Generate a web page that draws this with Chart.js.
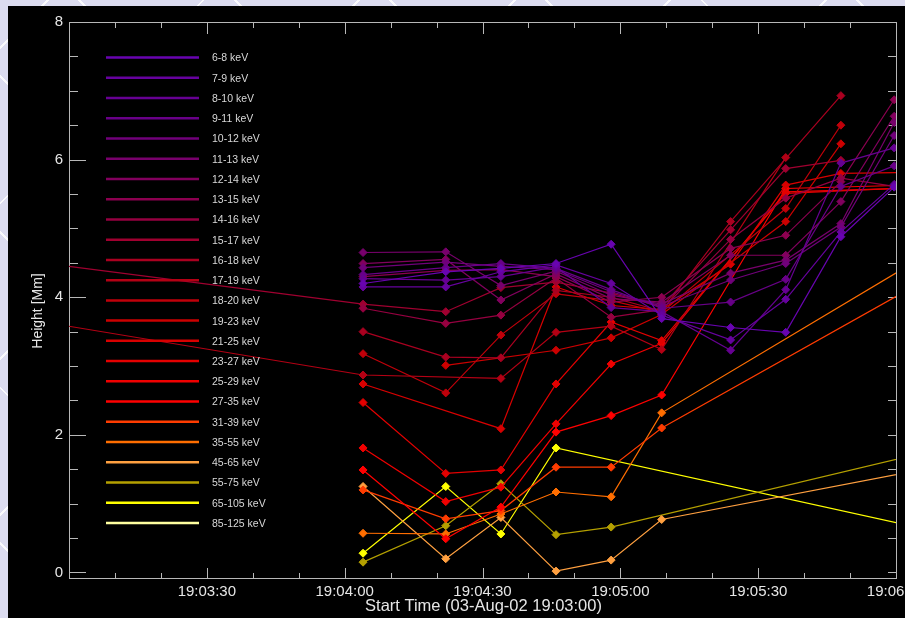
<!DOCTYPE html>
<html>
<head>
<meta charset="utf-8">
<script src="https://cdn.jsdelivr.net/npm/chart.js@4.4.1/dist/chart.umd.min.js"></script>
<style>
  html, body { margin: 0; padding: 0; width: 905px; height: 618px; overflow: hidden; }
  body {
    background-color: #dcdcf0;
    background-image:
      repeating-linear-gradient(45deg, rgba(255,255,255,0) 0 52px, rgba(255,255,255,0.85) 52px 54px, rgba(255,255,255,0) 54px 110px),
      repeating-linear-gradient(-45deg, rgba(255,255,255,0) 0 52px, rgba(255,255,255,0.85) 52px 54px, rgba(255,255,255,0) 54px 110px);
  }
  #wrap { position: absolute; left: 8px; top: 6px; width: 897px; height: 612px; background: #000; }
  canvas { display: block; }
</style>
</head>
<body>
<div id="wrap"><canvas id="c" width="897" height="612"></canvas></div>
<script>
// Sample times, seconds after 19:03:00 (first and last fall outside the plotted window)
const timesSec = [-20, 64, 82, 94, 106, 118, 129, 144, 156, 168, 179.6, 200];

const bandLabels = [
  '6-8 keV', '7-9 keV', '8-10 keV', '9-11 keV', '10-12 keV', '11-13 keV',
  '12-14 keV', '13-15 keV', '14-16 keV', '15-17 keV', '16-18 keV', '17-19 keV',
  '18-20 keV', '19-23 keV', '21-25 keV', '23-27 keV', '25-29 keV', '27-35 keV',
  '31-39 keV', '35-55 keV', '45-65 keV', '55-75 keV', '65-105 keV', '85-125 keV'
];

const bandColors = [
  '#6804b0', '#66029e', '#660092', '#680088', '#70007a', '#78006c',
  '#82005e', '#8c0050', '#960040', '#a00030', '#aa0020', '#b40014',
  '#c0000a', '#cc0000', '#d80000', '#e40000', '#f00000', '#ff0000',
  '#ff3c00', '#ff6e00', '#ffa040', '#b4a000', '#ffff00', '#ffffa0'
];

// Source height (Mm) per band at each sample time; null = no measurement
const h_6_8    = [null, 4.20, 4.37, 4.42, 4.49, 4.77, 3.69, 3.56, 3.49, 4.88, 5.60, null];
const h_7_9    = [null, 4.15, 4.15, 4.37, 4.47, 4.20, 3.74, 3.38, 3.97, 4.95, 5.64, null];
const h_8_10   = [null, 4.27, 4.25, 4.30, 4.44, 3.85, 3.79, 3.23, 4.11, 5.95, 6.17, null];
const h_9_11   = [null, 4.33, 4.43, 4.49, 4.42, 4.11, 3.84, 3.93, 4.26, 5.61, 5.91, null];
const h_10_12  = [null, 4.43, 4.51, 4.45, 4.40, 4.08, 3.87, 4.25, 4.49, 5.02, 6.35, null];
const h_11_13  = [null, 4.65, 4.66, 4.17, 4.38, 4.03, 3.90, 4.35, 4.54, 5.07, 6.54, null];
const h_12_14  = [null, 4.49, 4.55, 3.96, 4.34, 3.98, 3.93, 4.61, 4.61, 5.39, 6.63, null];
const h_13_15  = [null, 4.30, 4.39, 4.40, 4.30, 3.93, 4.00, 4.71, 4.90, 5.68, 6.87, null];
const h_14_16  = [null, 3.84, 3.62, 3.74, 4.28, 3.71, 3.82, 4.84, 5.44, 5.73, 5.61, null];
const h_15_17  = [4.62, 3.90, 3.79, 4.14, 4.22, 4.06, 3.86, 4.98, 5.87, 5.99, null, null];
const h_16_18  = [null, 3.50, 3.13, 3.12, 4.10, 4.00, 3.80, 5.10, null, 6.93, null, null];
const h_17_19  = [3.80, 2.87, null, 2.82, 3.49, 3.58, 3.24, null, 6.03, null, null, null];
const h_18_20  = [null, 3.18, 2.61, 3.45, 4.05, 3.95, 3.78, null, 5.29, 6.50, null, null];
const h_19_23  = [null, null, 3.01, null, 3.23, 3.41, 3.75, null, 5.10, 6.23, null, null];
const h_21_25  = [null, 2.74, null, 2.09, 4.15, 3.88, 3.82, 4.48, 5.63, 5.80, null, 5.83];
const h_23_27  = [null, 2.47, 1.44, 1.49, 2.74, 3.64, 3.37, null, 5.51, null, null, 5.64];
const h_25_29  = [null, 1.81, 1.03, 1.24, 2.16, 3.03, 3.33, null, 5.53, null, null, 5.62];
const h_27_35  = [null, 1.49, 0.49, 0.95, 2.04, 2.28, 2.58, null, 5.58, null, null, 5.66];
const h_31_39  = [null, 1.20, 0.78, 0.90, 1.53, 1.53, 2.10, null, null, null, null, 4.76];
const h_35_55  = [null, 0.57, 0.56, 0.85, 1.17, 1.10, 2.32, null, null, null, null, 5.15];
const h_45_65  = [null, 1.25, 0.20, 0.80, 0.02, 0.18, 0.77, null, null, null, null, 1.68];
const h_55_75  = [null, 0.15, 0.68, 1.29, 0.55, 0.66, null, null, null, null, null, 1.96];
const h_65_105 = [null, 0.28, 1.25, 0.56, 1.81, null, null, null, null, null, null, 0.43];
const h_85_125 = [null, null, null, null, null, null, null, null, null, null, null, null];

const heights = [h_6_8, h_7_9, h_8_10, h_9_11, h_10_12, h_11_13, h_12_14, h_13_15,
  h_14_16, h_15_17, h_16_18, h_17_19, h_18_20, h_19_23, h_21_25, h_23_27, h_25_29,
  h_27_35, h_31_39, h_35_55, h_45_65, h_55_75, h_65_105, h_85_125];

const xTickValues = [30, 60, 90, 120, 150, 180];
const yTickValues = [0, 2, 4, 6, 8];
const startLabel = 'Start Time (03-Aug-02 19:03:00)';
const yTitle = 'Height [Mm]';

function fmtTime(s) {
  const total = 19 * 3600 + 3 * 60 + s;
  const hh = Math.floor(total / 3600), mm = Math.floor((total % 3600) / 60), ss = Math.round(total % 60);
  const p = n => String(n).padStart(2, '0');
  return hh + ':' + p(mm) + ':' + p(ss);
}

const datasets = heights.map((arr, i) => ({
  label: bandLabels[i],
  data: timesSec.map((t, j) => ({ x: t, y: arr[j] })).filter(p => p.y !== null),
  borderColor: bandColors[i],
  backgroundColor: bandColors[i],
  borderWidth: 1.2,
  pointStyle: 'rectRot',
  pointRadius: 4,
  pointBorderWidth: 1,
  tension: 0,
  fill: false
}));

const AXIS = '#b8b8b8';
const TEXT = '#e6e6e6';
const FONT = '"Liberation Sans", Arial, sans-serif';

// IDL-style box with inward ticks and labels
const frame = {
  id: 'frame',
  beforeDatasetsDraw(chart) {
    const { ctx, chartArea: a, scales: { x, y } } = chart;
    ctx.save();
    ctx.strokeStyle = AXIS;
    ctx.lineWidth = 1;
    ctx.strokeRect(a.left + 0.5, a.top + 0.5, a.right - a.left, a.bottom - a.top);
    ctx.beginPath();
    for (let s = 0; s <= 180; s += 10) {
      const px = Math.round(x.getPixelForValue(s)) + 0.5;
      const major = s % 30 === 0;
      const lb = major ? 10 : 5, lt = major ? 12 : 6;
      ctx.moveTo(px, a.bottom); ctx.lineTo(px, a.bottom - lb);
      ctx.moveTo(px, a.top); ctx.lineTo(px, a.top + lt);
    }
    for (let v = 0; v <= 8.001; v += 0.5) {
      const py = Math.round(y.getPixelForValue(v)) + 0.5;
      const major = Math.abs(v % 2) < 1e-6;
      const ll = major ? 17 : 9, lr = 8;
      ctx.moveTo(a.left, py); ctx.lineTo(a.left + ll, py);
      ctx.moveTo(a.right, py); ctx.lineTo(a.right - lr, py);
    }
    ctx.stroke();

    ctx.fillStyle = TEXT;
    ctx.font = '15px ' + FONT;
    ctx.textAlign = 'center';
    ctx.textBaseline = 'middle';
    xTickValues.forEach(s => ctx.fillText(fmtTime(s), x.getPixelForValue(s), a.bottom + 14));
    ctx.font = '16.5px ' + FONT;
    ctx.fillText(startLabel, (a.left + a.right) / 2 + 1, a.bottom + 28);
    ctx.font = '15px ' + FONT;
    ctx.textAlign = 'right';
    yTickValues.forEach(v => ctx.fillText(String(v), a.left - 6, y.getPixelForValue(v)));
    ctx.save();
    ctx.translate(30, 305);
    ctx.rotate(-Math.PI / 2);
    ctx.textAlign = 'center';
    ctx.font = '14px ' + FONT;
    ctx.fillText(yTitle, 0, 0);
    ctx.restore();
    ctx.restore();
  }
};

// Band key drawn inside the plot, upper left
const bandKey = {
  id: 'bandKey',
  afterDatasetsDraw(chart) {
    const { ctx } = chart;
    ctx.save();
    ctx.font = '10.5px ' + FONT;
    ctx.textBaseline = 'middle';
    ctx.textAlign = 'left';
    chart.data.datasets.forEach((ds, i) => {
      const yy = 51.5 + i * 20.24;
      ctx.strokeStyle = ds.borderColor;
      ctx.lineWidth = 2.5;
      ctx.beginPath();
      ctx.moveTo(98, yy); ctx.lineTo(191, yy);
      ctx.stroke();
      ctx.fillStyle = '#d8d8d8';
      ctx.fillText(ds.label, 204, yy + 1);
    });
    ctx.restore();
  }
};

new Chart(document.getElementById('c'), {
  type: 'line',
  data: { datasets },
  options: {
    responsive: false,
    animation: false,
    layout: { padding: { left: 61, top: 16, right: 9, bottom: 40 } },
    plugins: { legend: { display: false }, tooltip: { enabled: false } },
    scales: {
      x: { type: 'linear', min: 0, max: 180, display: false },
      y: { type: 'linear', min: -0.08, max: 8, display: false }
    }
  },
  plugins: [frame, bandKey]
});
</script>
</body>
</html>
